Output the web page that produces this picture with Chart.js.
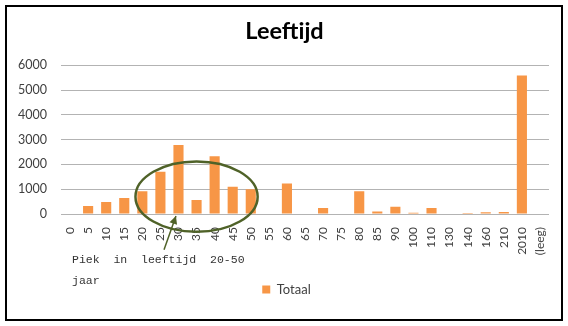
<!DOCTYPE html>
<html>
<head>
<meta charset="utf-8">
<script src="https://cdn.jsdelivr.net/npm/chart.js@4/dist/chart.umd.min.js"></script>
<style>
html,body{margin:0;padding:0;background:#fff;}
#wrap{position:relative;width:568px;height:326px;}
</style>
</head>
<body>
<div id="wrap"><canvas id="c" width="568" height="326"></canvas></div>
<script>
const categories = ['0','5','10','15','20','25','30','35','40','45','50','55','60','65','70','75','80','85','90','100','110','130','140','160','210','2010','(leeg)'];
const totaal = [0,320,480,650,920,1700,2780,560,2330,1100,1000,0,1230,0,240,0,920,100,290,50,240,0,40,70,80,5580,0];
const yTicks = [0,1000,2000,3000,4000,5000,6000];
const titleText = 'Leeftijd';
const seriesName = 'Totaal';
const noteLines = ['Piek  in  leeftijd  20-50', 'jaar'];

const frame = {
  id: 'frame',
  afterLayout(chart) {
    const lg = chart.legend;
    if (lg) { lg.left += 8; lg.right += 8; }
    const tt = chart.titleBlock;
    if (tt) { tt.left += 6; tt.right += 6; }
  },
  beforeDraw(chart) {
    const ctx = chart.ctx;
    ctx.save();
    ctx.fillStyle = '#fff';
    ctx.fillRect(0, 0, chart.width, chart.height);
    ctx.restore();
  },
  afterDraw(chart) {
    const ctx = chart.ctx;
    const x = chart.scales.x, y = chart.scales.y;
    ctx.save();
    ctx.strokeStyle = '#000';
    ctx.lineWidth = 2;
    ctx.strokeRect(6, 6, 556, 314);
    const green = '#4f6228';
    const cx = x.getPixelForValue(7);
    const cy = y.getPixelForValue(700);
    const rx = x.getPixelForValue(7 + 3.38) - cx;
    const ry = y.getPixelForValue(0) - y.getPixelForValue(1420);
    ctx.strokeStyle = green;
    ctx.lineWidth = 2.5;
    ctx.beginPath();
    ctx.ellipse(cx, cy, rx, ry, 0, 0, Math.PI * 2);
    ctx.stroke();
    const tx = x.getPixelForValue(5.86), ty = y.getPixelForValue(-80);
    const sx = x.getPixelForValue(5.2), sy = y.getPixelForValue(-1440);
    ctx.lineWidth = 1.5;
    ctx.beginPath();
    ctx.moveTo(sx, sy);
    ctx.lineTo(tx, ty);
    ctx.stroke();
    const ang = Math.atan2(ty - sy, tx - sx);
    ctx.fillStyle = green;
    ctx.beginPath();
    ctx.moveTo(tx, ty);
    ctx.lineTo(tx - 8 * Math.cos(ang) + 4 * Math.sin(ang), ty - 8 * Math.sin(ang) - 4 * Math.cos(ang));
    ctx.lineTo(tx - 8 * Math.cos(ang) - 4 * Math.sin(ang), ty - 8 * Math.sin(ang) + 4 * Math.cos(ang));
    ctx.closePath();
    ctx.fill();
    ctx.fillStyle = '#333';
    ctx.font = '11.5px "Liberation Mono", "DejaVu Sans Mono", monospace';
    ctx.textBaseline = 'middle';
    ctx.textAlign = 'left';
    ctx.fillText(noteLines[0], 72, 260);
    ctx.fillText(noteLines[1], 72, 281);
    ctx.restore();
  }
};

new Chart(document.getElementById('c'), {
  type: 'bar',
  data: {
    labels: categories,
    datasets: [{
      label: seriesName,
      data: totaal,
      backgroundColor: '#f79646',
      borderWidth: 0,
      barPercentage: 0.56,
      categoryPercentage: 1.0
    }]
  },
  options: {
    responsive: false,
    animation: false,
    devicePixelRatio: 1,
    layout: { padding: { left: 8, right: 19, top: 6, bottom: 20 } },
    plugins: {
      title: {
        display: true,
        text: titleText,
        color: '#000',
        font: { family: 'Lato', size: 23.5, weight: 'bold' },
        padding: { top: 11, bottom: 20 }
      },
      legend: {
        display: true,
        position: 'bottom',
        labels: {
          boxWidth: 8,
          boxHeight: 8,
          color: '#404040',
          font: { family: 'Lato', size: 13 },
          padding: 6
        }
      },
      tooltip: { enabled: false }
    },
    scales: {
      x: {
        grid: { display: false, drawTicks: false },
        border: { display: false },
        ticks: {
          color: '#404040',
          font: { family: 'Lato', size: 12 },
          minRotation: 90,
          maxRotation: 90,
          autoSkip: false,
          padding: 13
        },
        afterFit(s) { s.height = 63; }
      },
      y: {
        min: 0,
        max: 6000,
        afterBuildTicks(s) { s.ticks = yTicks.map(v => ({ value: v })); },
        grid: { color: '#b3b3b3', drawTicks: false, lineWidth: 1 },
        border: { display: false },
        ticks: {
          color: '#404040',
          font: { family: 'Lato', size: 12.5 },
          padding: 14,
          callback: v => String(v)
        },
        afterFit(s) { s.width = 53; }
      }
    }
  },
  plugins: [frame]
});
</script>
</body>
</html>
